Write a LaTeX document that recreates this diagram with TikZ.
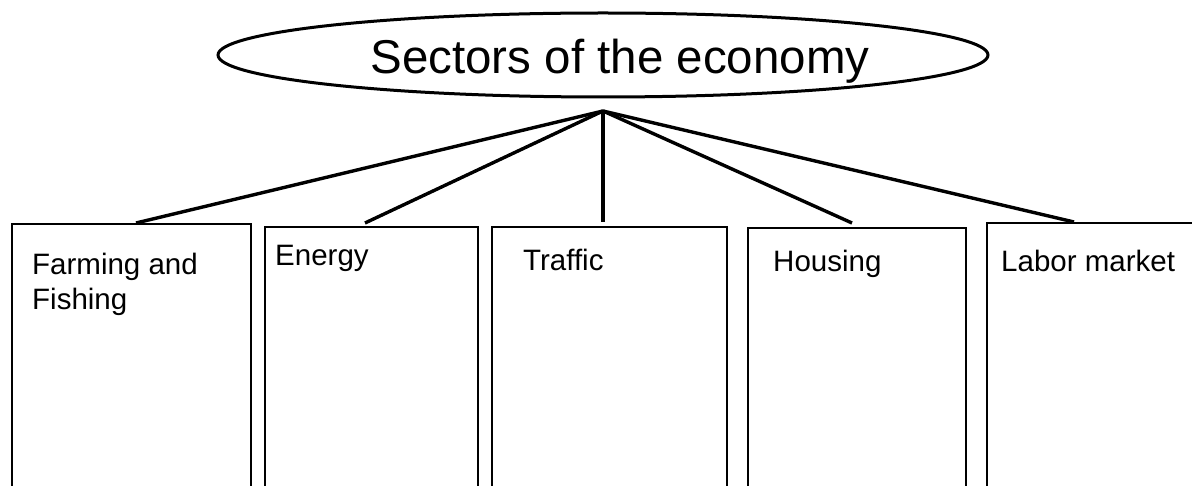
\documentclass[tikz,border=0pt]{standalone}
\usepackage{fontspec}
\setmainfont{Liberation Sans}
\usetikzlibrary{shapes.geometric}
\begin{document}
\begin{tikzpicture}[x=1pt,y=-1pt,
  sectorbox/.style={draw, line width=1.5pt, rectangle, anchor=north west, inner sep=0pt, outer sep=0pt},
  boxtext/.style={anchor=base west, inner sep=0pt, font=\fontsize{29.5}{35}\selectfont, align=left},
  link/.style={line width=3.4pt},
]
\useasboundingbox (0,0) rectangle (1192,486);
\node[draw, ellipse, line width=3pt, minimum width=770pt, minimum height=84pt, inner sep=0pt] (title) at (603,55) {};
\node[anchor=base, inner sep=0pt, font=\fontsize{47.5}{55}\selectfont] (titletext) at (620,74) {Sectors of the economy};
\coordinate (apex) at (603,111);

\node[sectorbox, minimum width=239pt, minimum height=290pt] (b1) at (12,224) {};
\node[sectorbox, minimum width=213pt, minimum height=290pt] (b2) at (265,227) {};
\node[sectorbox, minimum width=235pt, minimum height=290pt] (b3) at (492,227) {};
\node[sectorbox, minimum width=218pt, minimum height=290pt] (b4) at (748,228) {};
\node[sectorbox, minimum width=230pt, minimum height=290pt] (b5) at (987,223) {};

\node[boxtext] (t1) at (32,275) {Farming and};
\node[boxtext] (t1b) at (32,310) {Fishing};
\node[boxtext] (t2) at (275,266) {Energy};
\node[boxtext] (t3) at (523,271) {Traffic};
\node[boxtext] (t4) at (773,272) {Housing};
\node[boxtext] (t5) at (1001,272) {Labor market};

\coordinate (e1) at (136,223);
\coordinate (e2) at (365,223);
\coordinate (e3) at (603,222);
\coordinate (e4) at (852,223);
\coordinate (e5) at (1074,222);
\foreach \e in {e1,e2,e3,e4,e5} \draw[link] (apex) -- (\e);
\end{tikzpicture}
\end{document}
